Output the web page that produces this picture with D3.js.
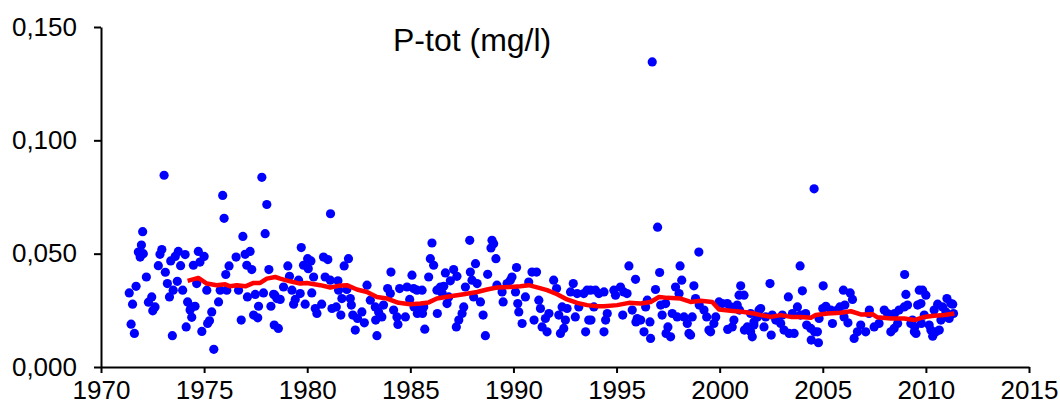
<!DOCTYPE html>
<html>
<head>
<meta charset="utf-8">
<script src="https://cdn.jsdelivr.net/npm/d3@7"></script>
<style>
	body { margin: 0; background: #fff; }
	svg { display: block; font-family: "Liberation Sans", Arial, sans-serif; }
	.axis path, .axis line { stroke: #000; stroke-width: 2px; }
	.axis text { fill: #000; font-size: 26px; }
</style>
</head>
<body>
<svg width="1060" height="412"></svg>
<script>
// samples, [year, P-tot mg/l]
const samples = [
	[1971.37,0.0327],[1971.53,0.0277],[1971.46,0.0189],[1971.62,0.0148],[1971.7,0.0356],
	[1971.81,0.0507],[1971.9,0.0485],[1971.96,0.0538],[1972.02,0.0597],[1972.05,0.050],
	[1972.2,0.0397],[1972.3,0.0286],[1972.46,0.0309],[1972.51,0.0248],[1972.62,0.0265],
	[1972.78,0.0447],[1972.86,0.0497],[1972.95,0.0518],[1973.06,0.0846],[1973.12,0.0418],
	[1973.22,0.0368],[1973.32,0.0309],[1973.38,0.0468],[1973.46,0.0138],[1973.5,0.0339],
	[1973.6,0.0488],[1973.7,0.0378],[1973.75,0.051],[1973.86,0.0447],[1973.96,0.0339],
	[1974.08,0.0496],[1974.13,0.0177],[1974.2,0.0287],[1974.32,0.0251],[1974.37,0.0265],
	[1974.4,0.0219],[1974.48,0.0449],[1974.56,0.0268],[1974.64,0.0368],[1974.72,0.051],
	[1974.8,0.0463],[1974.89,0.0157],[1975.0,0.0488],[1975.13,0.0339],[1975.17,0.0192],
	[1975.26,0.0204],[1975.37,0.0243],[1975.47,0.0078],[1975.7,0.0287],[1975.78,0.0339],
	[1975.9,0.0757],[1975.97,0.0656],[1976.05,0.0408],[1976.1,0.0339],[1976.21,0.0446],
	[1976.55,0.0485],[1976.67,0.0339],[1976.8,0.0207],[1976.88,0.0576],[1976.99,0.0497],
	[1977.07,0.0449],[1977.1,0.0309],[1977.23,0.051],[1977.31,0.043],[1977.4,0.0229],
	[1977.48,0.032],[1977.6,0.0217],[1977.64,0.0268],[1977.8,0.0837],[1977.88,0.0327],
	[1977.96,0.0588],[1978.04,0.0717],[1978.14,0.043],[1978.24,0.0268],[1978.37,0.0321],
	[1978.4,0.0185],[1978.53,0.0302],[1978.6,0.017],
	[1978.85,0.0353],[1978.69,0.0298],[1978.43,0.0317],[1979.06,0.0446],[1979.14,0.040],
	[1979.26,0.0339],[1979.34,0.0277],[1979.42,0.0298],[1979.58,0.0383],[1979.66,0.0324],
	[1979.71,0.0527],[1979.82,0.0449],[1979.9,0.0277],[1980.02,0.0478],[1980.05,0.0434],
	[1980.18,0.0468],[1980.22,0.0327],[1980.31,0.0397],[1980.39,0.0258],[1980.47,0.0236],
	[1980.7,0.0277],[1980.79,0.0485],[1980.87,0.0397],[1981.0,0.0474],[1981.12,0.0383],
	[1981.13,0.0676],[1981.2,0.0258],[1981.41,0.0265],[1981.49,0.038],[1981.52,0.0339],
	[1981.63,0.0229],[1981.68,0.0302],[1981.79,0.0446],[1981.92,0.0342],[1982.0,0.0478],
	[1982.09,0.0302],[1982.14,0.0273],[1982.21,0.0229],[1982.33,0.0163],[1982.44,0.0214],
	[1982.65,0.0243],[1982.77,0.0195],[1982.9,0.0361],[1983.06,0.0295],[1983.3,0.0265],
	[1983.32,0.0207],[1983.38,0.0138],[1983.46,0.0243],[1983.62,0.0221],[1983.7,0.0273],
	[1983.9,0.0346],[1984.03,0.0324],[1984.06,0.0419],[1984.19,0.0251],[1984.35,0.0221],
	[1984.4,0.0188],[1984.48,0.0346],[1984.76,0.0221],[1984.84,0.0353],[1984.97,0.0298],
	[1985.08,0.0405],[1985.16,0.0346],[1985.18,0.0265],[1985.32,0.0339],[1985.34,0.0236],
	[1985.4,0.0251],[1985.57,0.0339],[1985.59,0.0236],[1985.65,0.0265],[1985.7,0.0167],
	[1985.89,0.0397],[1985.97,0.0478],[1986.05,0.0547],[1986.13,0.0449],[1986.29,0.0339],
	[1986.31,0.0236],[1986.46,0.0353],
	[1986.54,0.0327],[1986.62,0.0356],[1986.7,0.0415],[1986.78,0.028],[1986.86,0.0309],
	[1986.94,0.038],[1987.1,0.043],[1987.23,0.0177],[1987.26,0.040],[1987.35,0.0207],
	[1987.51,0.0236],[1987.59,0.0265],[1987.67,0.0353],[1987.88,0.0559],[1987.91,0.0419],
	[1987.99,0.0383],[1988.07,0.0309],[1988.16,0.0456],[1988.24,0.0368],[1988.4,0.0287],
	[1988.53,0.0229],[1988.64,0.0138],[1988.75,0.0409],[1988.91,0.0525],[1988.96,0.0559],
	[1989.04,0.0544],[1989.15,0.0478],[1989.2,0.0361],[1989.45,0.0331],[1989.5,0.0287],
	[1989.69,0.0368],[1989.85,0.0383],[1989.93,0.0397],[1990.1,0.0331],[1990.15,0.0439],
	[1990.21,0.028],[1990.26,0.0243],[1990.42,0.0192],[1990.58,0.0309],[1990.74,0.0375],
	[1990.9,0.0419],[1991.0,0.0207],[1991.12,0.0419],[1991.23,0.0295],[1991.31,0.0258],
	[1991.39,0.0177],[1991.55,0.0214],[1991.63,0.0155],[1991.72,0.0236],[1991.95,0.0383],
	[1992.09,0.0346],[1992.2,0.0229],[1992.28,0.0148],[1992.36,0.0265],[1992.44,0.017],
	[1992.52,0.0207],[1992.6,0.0258],[1992.77,0.0331],[1992.9,0.0368],[1993.0,0.0221],
	[1993.09,0.0324],[1993.17,0.0265],[1993.41,0.0324],[1993.5,0.0155],[1993.57,0.0339],
	[1993.65,0.0207],[1993.74,0.0339],[1993.9,0.0265],[1993.98,0.0339],[1994.14,0.0324],
	[1993.76,0.0207],[1994.39,0.0331],[1994.39,0.0155],[1994.47,0.0207],[1994.55,0.0236],
	[1994.87,0.0339],[1994.95,0.0317],[1995.19,0.0353],[1995.3,0.0229],[1995.35,0.0331],
	[1995.51,0.0324],[1995.6,0.0446],[1995.76,0.0251],[1995.92,0.0387],[1995.94,0.0199],
	[1996.0,0.0214],[1996.17,0.0207],[1996.33,0.0155],[1996.41,0.0265],[1996.49,0.0295],
	[1996.62,0.0199],[1996.65,0.0126],[1996.73,0.1346],[1996.89,0.0342],[1996.99,0.0617],
	[1997.09,0.0417],[1997.14,0.0273],[1997.21,0.0229],[1997.38,0.028],[1997.4,0.0148],
	[1997.49,0.0177],[1997.62,0.0133],[1997.7,0.0236],[1997.86,0.0353],[1997.94,0.0221],
	[1998.03,0.0324],[1998.08,0.0446],[1998.16,0.0383],[1998.27,0.0221],[1998.43,0.0192],
	[1998.51,0.0148],[1998.59,0.0141],[1998.67,0.0221],[1998.75,0.0358],[1998.83,0.0302],
	[1998.99,0.0507],[1999.01,0.0273],[1999.24,0.0251],[1999.37,0.0221],[1999.48,0.0163],
	[1999.56,0.0155],[1999.72,0.0192],[1999.81,0.0221],[1999.97,0.0287],[2000.13,0.028],
	[2000.37,0.028],[2000.39,0.0166],[2000.53,0.0265],[2000.61,0.0177],[2000.69,0.0207],
	[2000.85,0.0273],[2000.94,0.0317],[2000.96,0.0251],[2001.02,0.0358],[2001.18,0.0317],
	[2001.2,0.0163],[2001.34,0.0177],[2001.5,0.0155],[2001.58,0.0133],[2001.66,0.0199],
	[2001.83,0.0221],[2001.91,0.0251],
	[2001.5,0.0236],[2001.66,0.0185],[2001.99,0.0258],[2002.15,0.0177],[2002.23,0.0221],
	[2002.44,0.0368],[2002.5,0.0141],[2002.55,0.0229],[2002.72,0.0207],[2002.96,0.0192],
	[2003.04,0.0229],[2003.12,0.0163],[2003.33,0.0309],[2003.37,0.0148],[2003.53,0.0236],
	[2003.61,0.0148],[2003.77,0.0265],[2003.9,0.0446],[2003.92,0.0229],[2004.01,0.0336],
	[2004.17,0.0236],[2004.22,0.0185],[2004.42,0.017],[2004.44,0.0119],[2004.58,0.0786],
	[2004.6,0.0155],[2004.74,0.0155],[2004.79,0.0107],[2004.82,0.0214],[2005.0,0.0258],
	[2005.02,0.0358],[2005.15,0.0268],[2005.39,0.0251],[2005.47,0.0192],[2005.71,0.0251],
	[2005.83,0.0265],[2006.0,0.0339],[2006.03,0.0221],[2006.07,0.0273],[2006.22,0.0195],
	[2006.33,0.0327],[2006.44,0.0298],[2006.52,0.0126],[2006.68,0.0155],[2006.84,0.0185],
	[2007.08,0.0155],[2007.24,0.0236],[2007.26,0.0251],[2007.49,0.0177],[2007.73,0.0192],
	[2007.98,0.0251],[2008.14,0.0236],[2008.3,0.0155],[2008.46,0.017],[2008.48,0.0236],
	[2008.63,0.0192],[2008.7,0.0251],[2008.95,0.0265],[2008.97,0.0408],[2009.03,0.032],
	[2009.11,0.0273],[2009.27,0.0192],[2009.44,0.0155],[2009.6,0.0273],[2009.68,0.0339],
	[2009.35,0.0207],[2009.46,0.0177],[2009.52,0.0148],[2009.76,0.028],[2009.78,0.0192],
	[2009.84,0.0339],[2009.92,0.0229],[2010.0,0.0317],[2010.16,0.0185],[2010.24,0.0163],
	[2010.33,0.0136],[2010.4,0.0251],[2010.49,0.0155],[2010.57,0.0277],[2010.65,0.0163],
	[2010.73,0.0207],[2010.81,0.0265],[2010.89,0.0221],[2010.97,0.0243],[2011.02,0.0302],
	[2011.13,0.0214],[2011.21,0.028],[2011.3,0.0277],[2011.34,0.0236]
];

// running mean (red line)
const runningMean = [
	[1974.2,0.038],[1974.72,0.0393],[1975.13,0.0368],[1975.61,0.0361],[1976.02,0.0365],
	[1976.26,0.0356],[1976.59,0.0361],[1977.0,0.0356],[1977.4,0.0371],[1977.72,0.0371],
	[1978.04,0.039],[1978.45,0.0397],[1978.69,0.039],[1979.17,0.0378],[1979.66,0.0368],
	[1979.98,0.0371],[1980.63,0.0361],[1981.12,0.0351],[1981.52,0.0358],[1981.92,0.0361],
	[1982.41,0.0342],[1982.9,0.0331],[1983.38,0.0309],[1983.87,0.0302],[1984.43,0.0283],
	[1985.0,0.0277],[1985.49,0.028],[1985.89,0.0285],[1986.29,0.0302],[1986.94,0.0312],
	[1987.59,0.0321],[1988.24,0.0331],[1988.72,0.0342],[1989.2,0.0351],[1989.85,0.0353],
	[1990.34,0.0356],[1990.74,0.0361],[1991.15,0.0351],[1991.63,0.0339],[1992.12,0.0321],
	[1992.6,0.0298],[1993.09,0.0283],[1993.57,0.0273],[1994.06,0.0268],[1994.39,0.0268],
	[1995.03,0.0273],[1995.6,0.0283],[1996.17,0.028],[1996.65,0.0287],[1997.06,0.0309],
	[1997.46,0.0305],[1998.11,0.0302],[1998.59,0.0287],[1999.08,0.0292],[1999.64,0.0287],
	[1999.97,0.0254],[2000.53,0.0248],[2001.18,0.0243],[2001.66,0.0236],[2001.99,0.0229],
	[2002.48,0.0221],[2002.96,0.0229],[2003.45,0.0221],[2003.93,0.0221],[2004.42,0.0217],
	[2004.66,0.0229],[2005.23,0.0236],[2005.87,0.0239],[2006.36,0.0246],[2006.84,0.0232],
	[2007.41,0.0233],[2007.65,0.0219],[2008.3,0.0214],[2008.95,0.0214],[2009.44,0.0207],
	[2009.92,0.0221],[2010.4,0.0226],[2010.89,0.0229],[2011.38,0.0236]
];

const yearTicks = [1970, 1975, 1980, 1985, 1990, 1995, 2000, 2005, 2010, 2015];
const valueTicks = [0, 0.05, 0.1, 0.15];
const title = 'P-tot (mg/l)';

let svg = d3.select("svg"),
	width = +svg.attr("width"),
	height = +svg.attr("height");

const x = d3.scaleLinear().domain([1970, 2015]).range([101, 1029]);
const y = d3.scaleLinear().domain([0, 0.15]).range([367, 27]);

const commaFormat = d => d3.format(".3f")(d).replace('.', ',');

function drawAxes() {
	svg.append("g")
		.attr("class", "axis")
		.attr("transform", "translate(0," + y(0) + ")")
		.call(d3.axisBottom(x).tickValues(yearTicks).tickFormat(d3.format("d"))
			.tickSizeInner(6).tickSizeOuter(0).tickPadding(8));

	svg.append("g")
		.attr("class", "axis")
		.attr("transform", "translate(" + x(1970) + ",0)")
		.call(d3.axisLeft(y).tickValues(valueTicks).tickFormat(commaFormat)
			.tickSizeInner(7).tickSizeOuter(0).tickPadding(17));
}

function drawPoints() {
	svg.append("g")
		.attr("class", "points")
		.selectAll("circle")
		.data(samples)
		.enter().append("circle")
			.attr("cx", d => x(d[0]))
			.attr("cy", d => y(d[1]))
			.attr("r", 4.6)
			.attr("fill", "#0000ff");
}

function drawMean() {
	const line = d3.line()
		.x(d => x(d[0]))
		.y(d => y(d[1]));

	svg.append("path")
		.datum(runningMean)
		.attr("fill", "none")
		.attr("stroke", "#ff0000")
		.attr("stroke-width", 4.5)
		.attr("stroke-linejoin", "round")
		.attr("d", line);
}

drawAxes();
drawPoints();
drawMean();

svg.append("text")
	.attr("x", 393)
	.attr("y", 51)
	.attr("font-size", 32)
	.attr("fill", "#000")
	.text(title);
</script>
</body>
</html>
